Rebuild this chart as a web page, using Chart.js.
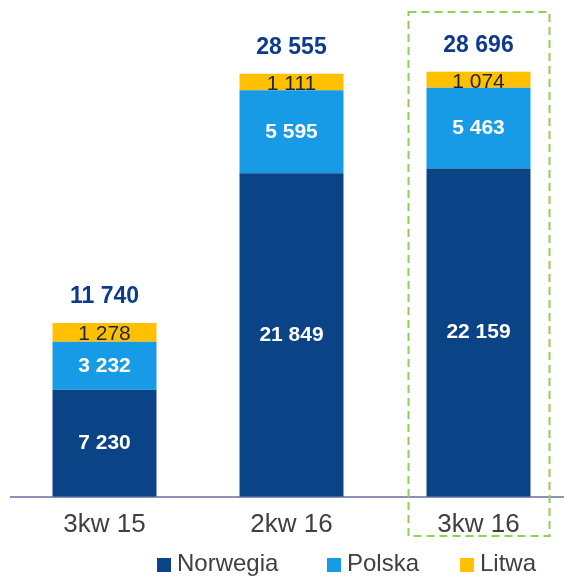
<!DOCTYPE html>
<html>
<head>
<meta charset="utf-8">
<script src="https://cdn.jsdelivr.net/npm/chart.js"></script>
<style>
  html, body { margin: 0; padding: 0; background: #fff; overflow: hidden; }
  #wrap { width: 575px; height: 577px; }
</style>
</head>
<body>
<div id="wrap"><canvas id="chart" width="575" height="577"></canvas></div>
<script>
const categories = ['3kw 15', '2kw 16', '3kw 16'];
const norwegia = [7230, 21849, 22159];
const polska = [3232, 5595, 5463];
const litwa = [1278, 1111, 1074];
const totals = [11740, 28555, 28696];

const colors = { norwegia: '#0a4386', polska: '#179be6', litwa: '#ffc000' };

function fmt(v) {
    return String(v).replace(/\B(?=(\d{3})+(?!\d))/g, ' ');
}

const labelsPlugin = {
    id: 'labels',
    afterDatasetsDraw(chart) {
        const ctx = chart.ctx;
        ctx.save();
        ctx.textAlign = 'center';
        ctx.textBaseline = 'middle';
        chart.data.datasets.forEach((ds, i) => {
            const meta = chart.getDatasetMeta(i);
            meta.data.forEach((bar, j) => {
                const mid = (bar.y + bar.base) / 2;
                if (i === 2) {
                    ctx.font = '21px "Liberation Sans", Arial, sans-serif';
                    ctx.fillStyle = '#1b2540';
                    ctx.fillText(fmt(ds.data[j]), bar.x, mid + 2);
                } else {
                    ctx.font = 'bold 21px "Liberation Sans", Arial, sans-serif';
                    ctx.fillStyle = '#ffffff';
                    ctx.fillText(fmt(ds.data[j]), bar.x, mid);
                }
            });
        });
        // totals
        const top = chart.getDatasetMeta(2);
        ctx.font = 'bold 23px "Liberation Sans", Arial, sans-serif';
        ctx.fillStyle = '#0c3a8c';
        top.data.forEach((bar, j) => {
            ctx.fillText(fmt(totals[j]), bar.x, bar.y - 26);
        });

        // highlight box around last quarter
        const x = chart.scales.x.getPixelForValue(2);
        ctx.strokeStyle = '#92d050';
        ctx.lineWidth = 2;
        ctx.setLineDash([8, 5]);
        ctx.strokeRect(x - 70, 12, 141, 524);
        ctx.setLineDash([]);

        // legend
        const items = [
            ['Norwegia', colors.norwegia, 157],
            ['Polska', colors.polska, 327],
            ['Litwa', colors.litwa, 460]
        ];
        ctx.font = '24px "Liberation Sans", Arial, sans-serif';
        ctx.textAlign = 'left';
        items.forEach(([name, col, lx]) => {
            ctx.fillStyle = col;
            ctx.fillRect(lx, 558, 14, 14);
            ctx.fillStyle = '#404040';
            ctx.fillText(name, lx + 20, 564);
        });
        ctx.restore();
    }
};

new Chart(document.getElementById('chart'), {
    type: 'bar',
    data: {
        labels: categories,
        datasets: [
            { label: 'Norwegia', data: norwegia, backgroundColor: colors.norwegia },
            { label: 'Polska', data: polska, backgroundColor: colors.polska },
            { label: 'Litwa', data: litwa, backgroundColor: colors.litwa }
        ]
    },
    options: {
        responsive: false,
        animation: false,
        layout: { padding: { left: 11, right: 3, top: 8, bottom: 25 } },
        plugins: {
            legend: { display: false },
            tooltip: { enabled: false }
        },
        scales: {
            x: {
                stacked: true,
                grid: { display: false, drawTicks: false },
                border: { display: true, color: '#8e90b8', width: 2 },
                ticks: {
                    color: '#404040',
                    padding: 12,
                    font: { family: '"Liberation Sans", Arial, sans-serif', size: 26 }
                }
            },
            y: {
                stacked: true,
                display: false,
                min: 0,
                max: 33000
            }
        },
        datasets: {
            bar: { categoryPercentage: 1, barPercentage: 0.556 }
        }
    },
    plugins: [labelsPlugin]
});
</script>
</body>
</html>
